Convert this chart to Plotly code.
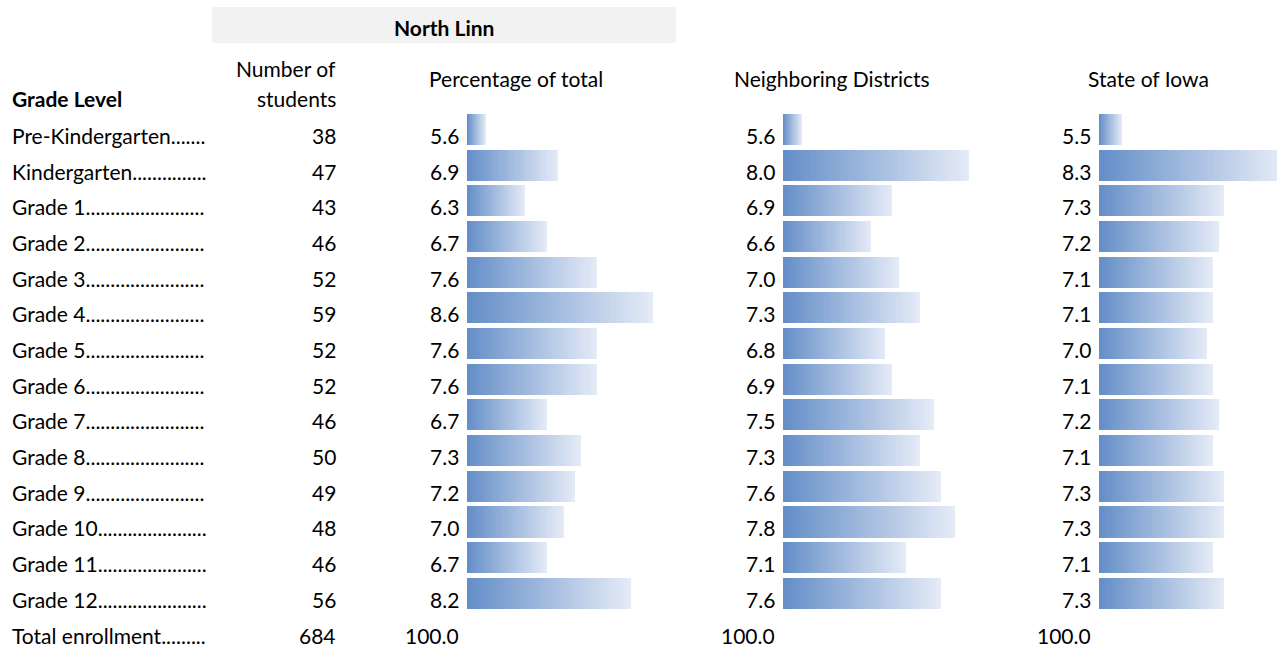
import plotly.graph_objects as go

# ---------------- data ----------------
grade_labels = [
    "Pre-Kindergarten.......", "Kindergarten...............", "Grade 1........................",
    "Grade 2........................", "Grade 3........................", "Grade 4........................",
    "Grade 5........................", "Grade 6........................", "Grade 7........................",
    "Grade 8........................", "Grade 9........................", "Grade 10......................",
    "Grade 11......................", "Grade 12......................",
]
total_label = "Total enrollment........."
students = [38, 47, 43, 46, 52, 59, 52, 52, 46, 50, 49, 48, 46, 56]
north_linn_pct = [5.6, 6.9, 6.3, 6.7, 7.6, 8.6, 7.6, 7.6, 6.7, 7.3, 7.2, 7.0, 6.7, 8.2]
neighboring_pct = [5.6, 8.0, 6.9, 6.6, 7.0, 7.3, 6.8, 6.9, 7.5, 7.3, 7.6, 7.8, 7.1, 7.6]
state_pct = [5.5, 8.3, 7.3, 7.2, 7.1, 7.1, 7.0, 7.1, 7.2, 7.1, 7.3, 7.3, 7.1, 7.3]
total_students = 684
total_pct = [100.0, 100.0, 100.0]
panel_titles = ["Percentage of total", "Neighboring Districts", "State of Iowa"]
group_title = "North Linn"

# ---------------- layout helpers ----------------
W, H = 1277, 647
FONT = "Lato"
FS = 21
DARK = (101, 143, 200)
LIGHT = (228, 234, 246)
N_SEG = 40

def px(x):
    return x / W

def py(y):
    return 1 - y / H

# panels: (values, x-domain px, axis start, px per unit, label right edge px, title centre px)
panels = [
    (north_linn_pct, 467, 676, 5.26, 55.7, 461, 516),
    (neighboring_pct, 783, 990, 5.33, 69.6, 777, 832),
    (state_pct, 1099, 1277, 5.10, 57.0, 1093, 1148),
]

ROW0, PITCH = 129.5, 35.68
y_top = -ROW0 / PITCH
y_bot = (H - ROW0) / PITCH

fig = go.Figure()
annotations = []
layout_axes = {}

def txt(x, y, s, anchor, yref="y", yshift=-6, bold=False):
    return dict(x=x, y=y, xref="paper", yref=yref, text=f"<b>{s}</b>" if bold else s,
                xanchor=anchor, yanchor="middle", yshift=yshift, showarrow=False,
                font=dict(family=FONT, size=FS, color="#000"))

for p, (vals, d0, d1, b0, ppu, lab_x, title_x) in enumerate(panels):
    xname = "x" if p == 0 else f"x{p+1}"
    ys, xs, cols = [], [], []
    for k in range(N_SEG, 0, -1):
        f = k / N_SEG
        t = (k - 1) / (N_SEG - 1)
        c = tuple(round(DARK[j] + (LIGHT[j] - DARK[j]) * t) for j in range(3))
        for i, v in enumerate(vals):
            ys.append(i)
            xs.append((v - b0) * f)
            cols.append(f"rgb{c}")
    fig.add_trace(go.Bar(
        x=xs, y=ys, base=b0, orientation="h", xaxis=xname, yaxis="y",
        marker=dict(color=cols, line=dict(width=0)), width=0.87,
        hoverinfo="skip", showlegend=False,
    ))
    axkey = "xaxis" if p == 0 else f"xaxis{p+1}"
    layout_axes[axkey] = dict(
        domain=[px(d0), min(px(d1), 1.0)], range=[b0, b0 + (d1 - d0) / ppu],
        visible=False, fixedrange=True, anchor="y",
    )
    for i, v in enumerate(vals):
        annotations.append(txt(px(lab_x), i, f"{v:.1f}", "right"))
    annotations.append(txt(px(lab_x), len(vals), f"{total_pct[p]:.1f}", "right"))
    annotations.append(txt(px(title_x), py(79), panel_titles[p], "center", yref="paper", yshift=0))

# grade labels and student counts
for i, (lab, n) in enumerate(zip(grade_labels + [total_label], students + [total_students])):
    annotations.append(txt(px(10), i, lab, "left"))
    annotations.append(txt(px(338), i, str(n), "right"))

# headers
annotations += [
    txt(px(10), py(99), "Grade Level", "left", yref="paper", yshift=0, bold=True),
    txt(px(338), py(68), "Number of", "right", yref="paper", yshift=0),
    txt(px(338), py(99), "students", "right", yref="paper", yshift=0),
    txt(px(444), py(27), group_title, "center", yref="paper", yshift=0, bold=True),
]

fig.update_layout(
    width=W, height=H, margin=dict(l=0, r=0, t=0, b=0),
    paper_bgcolor="white", plot_bgcolor="white",
    barmode="overlay", bargap=0, showlegend=False,
    yaxis=dict(range=[y_bot, y_top], visible=False, fixedrange=True, domain=[0, 1]),
    annotations=annotations,
    shapes=[dict(type="rect", xref="paper", yref="paper", x0=px(212), x1=px(676),
                 y0=py(43), y1=py(7), fillcolor="#f2f2f2", line=dict(width=0), layer="below")],
    **layout_axes,
)

fig.write_html(
    "out.html",
    config=dict(displayModeBar=False),
    post_script="document.body.style.margin='0';document.body.style.overflow='hidden';",
)
